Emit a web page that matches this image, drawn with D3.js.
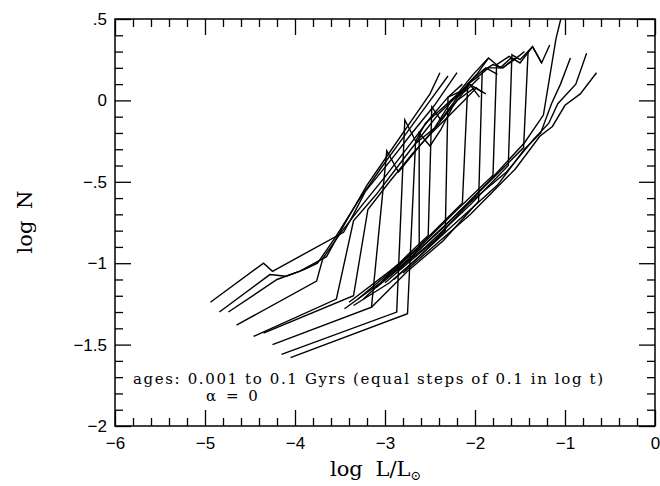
<!DOCTYPE html>
<html>
<head>
<meta charset="utf-8">
<script src="https://cdn.jsdelivr.net/npm/d3@7"></script>
<style>
  body { margin: 0; background: #fff; }
  svg { display: block; }
</style>
</head>
<body>
<script>
var w = 660;
var h = 486;
var plot = { left: 115, right: 655, top: 19, bottom: 426 };

// tick values
var xMajor = [-6, -5, -4, -3, -2, -1, 0];
var xMinor = [-5.8, -5.6, -5.4, -5.2, -4.8, -4.6, -4.4, -4.2, -3.8, -3.6, -3.4, -3.2,
  -2.8, -2.6, -2.4, -2.2, -1.8, -1.6, -1.4, -1.2, -0.8, -0.6, -0.4, -0.2];
var xLabels = ['\u22126', '\u22125', '\u22124', '\u22123', '\u22122', '\u22121', '0'];
var yMajor = [0.5, 0, -0.5, -1, -1.5, -2];
var yMinor = [0.4, 0.3, 0.2, 0.1, -0.1, -0.2, -0.3, -0.4, -0.6, -0.7, -0.8, -0.9,
  -1.1, -1.2, -1.3, -1.4, -1.6, -1.7, -1.8, -1.9];
var yLabels = ['.5', '0', '\u2212.5', '\u22121', '\u22121.5', '\u22122'];

// luminosity functions, one per age (log L, log N)
var curves = [
  [[-4.94,-1.24],[-4.35,-1.00],[-4.25,-1.05],[-3.46,-0.81],[-3.35,-0.70],[-3.22,-0.56],[-2.94,-0.37],[-2.70,-0.20],[-2.45,-0.03],[-2.20,0.17]],
  [[-4.84,-1.30],[-4.28,-1.07],[-4.10,-1.08],[-3.95,-1.05],[-3.65,-0.96],[-3.45,-0.76],[-3.20,-0.52],[-2.95,-0.32],[-2.70,-0.12],[-2.50,0.04],[-2.39,0.17]],
  [[-4.74,-1.30],[-4.20,-1.10],[-3.90,-1.04],[-3.75,-1.00],[-3.55,-0.84],[-3.30,-0.62],[-3.05,-0.42],[-2.80,-0.23],[-2.55,-0.04],[-2.30,0.15]],
  [[-4.65,-1.38],[-3.76,-1.11],[-3.69,-0.97],[-3.50,-0.82],[-3.25,-0.64],[-3.00,-0.47],[-2.75,-0.29],[-2.50,-0.11],[-2.30,0.02],[-2.14,0.10]],
  [[-4.46,-1.45],[-3.54,-1.22],[-3.35,-0.74],[-3.10,-0.58],[-2.85,-0.40],[-2.60,-0.22],[-2.40,-0.08],[-2.25,0.00],[-2.06,0.10],[-1.95,0.02]],
  [[-4.35,-1.43],[-3.35,-1.20],[-3.19,-0.67],[-2.95,-0.50],[-2.70,-0.33],[-2.50,-0.21],[-2.30,-0.10],[-2.12,0.00],[-1.98,0.08]],
  [[-4.25,-1.50],[-3.15,-1.27],[-2.98,-0.31],[-2.85,-0.44],[-2.60,-0.27],[-2.40,-0.14],[-2.20,0.00],[-2.00,0.08],[-1.88,0.04]],
  [[-4.15,-1.56],[-2.87,-1.30],[-2.78,-0.12],[-2.65,-0.26],[-2.45,-0.17],[-2.26,0.00],[-2.10,0.06],[-1.95,0.14]],
  [[-4.05,-1.58],[-2.75,-1.31],[-2.66,-0.25],[-2.55,-0.14],[-2.35,-0.04],[-2.15,0.06],[-1.98,0.16],[-1.85,0.26]],
  [[-3.45,-1.28],[-3.05,-1.12],[-2.75,-0.95],[-2.52,-0.83],[-2.48,-0.04],[-2.38,-0.12],[-2.22,0.00],[-2.05,0.12],[-1.88,0.20],[-1.75,0.16]],
  [[-3.35,-1.26],[-2.95,-1.12],[-2.60,-0.95],[-2.33,-0.80],[-2.30,0.02],[-2.18,0.05],[-2.02,0.16],[-1.85,0.26],[-1.72,0.20],[-1.60,0.26]],
  [[-3.24,-1.22],[-2.85,-1.02],[-2.45,-0.80],[-2.14,-0.63],[-2.08,0.10],[-1.98,0.14],[-1.85,0.20],[-1.69,0.20],[-1.56,0.26]],
  [[-3.15,-1.27],[-2.75,-1.05],[-2.35,-0.86],[-1.96,-0.62],[-1.92,0.18],[-1.80,0.22],[-1.69,0.20],[-1.54,0.26],[-1.45,0.30]],
  [[-3.30,-1.22],[-2.65,-0.92],[-2.25,-0.70],[-1.80,-0.46],[-1.76,0.22],[-1.62,0.27],[-1.50,0.23],[-1.36,0.33]],
  [[-3.10,-1.15],[-2.55,-0.90],[-2.05,-0.64],[-1.63,-0.40],[-1.59,0.28],[-1.50,0.25],[-1.36,0.33],[-1.26,0.23]],
  [[-3.00,-1.12],[-2.45,-0.86],[-1.95,-0.56],[-1.46,-0.29],[-1.41,0.30],[-1.36,0.33],[-1.26,0.23],[-1.17,0.34]],
  [[-2.95,-1.08],[-2.35,-0.78],[-1.85,-0.50],[-1.45,-0.26],[-1.24,-0.09],[-1.10,0.38],[-1.02,0.56]],
  [[-2.90,-1.10],[-2.25,-0.77],[-1.75,-0.52],[-1.45,-0.30],[-1.27,-0.20],[-1.15,-0.02],[-1.05,0.10],[-0.94,0.26]],
  [[-2.85,-1.04],[-2.15,-0.67],[-1.65,-0.44],[-1.35,-0.24],[-1.18,-0.14],[-1.08,-0.02],[-0.88,0.10],[-0.76,0.29]],
  [[-2.80,-1.06],[-2.05,-0.70],[-1.55,-0.42],[-1.28,-0.22],[-1.14,-0.16],[-1.00,-0.03],[-0.83,0.04],[-0.65,0.17]],
  [[-3.40,-1.24],[-2.95,-1.05],[-2.62,-0.90],[-2.62,-0.20],[-2.50,-0.28],[-2.38,-0.18],[-2.25,-0.04],[-2.06,0.10],[-1.92,0.05]]
];

var x = d3.scaleLinear().domain([-6, 0]).range([plot.left, plot.right]);
var y = d3.scaleLinear().domain([-2, 0.5]).range([plot.bottom, plot.top]);

var svg = d3.select('body').append('svg').attr('width', w).attr('height', h);

svg.append('clipPath').attr('id', 'clip')
  .append('rect')
  .attr('x', plot.left).attr('y', plot.top)
  .attr('width', plot.right - plot.left).attr('height', plot.bottom - plot.top);

var line = d3.line()
  .x(function (d) { return x(d[0]); })
  .y(function (d) { return y(d[1]); });

svg.append('g').attr('clip-path', 'url(#clip)')
  .selectAll('path.lf')
  .data(curves)
  .enter()
  .append('path')
  .attr('class', 'lf')
  .attr('d', line)
  .style('fill', 'none')
  .style('stroke', '#000')
  .style('stroke-width', 1.4)
  .style('stroke-linejoin', 'miter');

// axes, ticks pointing inward on all four sides
function styleAxis(g) {
  g.select('.domain').remove();
  g.selectAll('line').style('stroke', '#000').style('stroke-width', 1.3);
  g.selectAll('text')
    .style('font-family', '"Liberation Sans", Arial, sans-serif')
    .style('font-size', '17px')
    .style('fill', '#000');
}

svg.append('g').attr('transform', 'translate(0,' + plot.bottom + ')')
  .call(d3.axisBottom(x).tickValues(xMajor).tickSize(-16).tickPadding(11)
    .tickFormat(function (d, i) { return xLabels[i]; }))
  .call(styleAxis);
svg.append('g').attr('transform', 'translate(0,' + plot.bottom + ')')
  .call(d3.axisBottom(x).tickValues(xMinor).tickSize(-8).tickFormat(''))
  .call(styleAxis);
svg.append('g').attr('transform', 'translate(0,' + plot.top + ')')
  .call(d3.axisTop(x).tickValues(xMajor).tickSize(-16).tickFormat(''))
  .call(styleAxis);
svg.append('g').attr('transform', 'translate(0,' + plot.top + ')')
  .call(d3.axisTop(x).tickValues(xMinor).tickSize(-8).tickFormat(''))
  .call(styleAxis);

svg.append('g').attr('transform', 'translate(' + plot.left + ',0)')
  .call(d3.axisLeft(y).tickValues(yMajor).tickSize(-16).tickPadding(8)
    .tickFormat(function (d, i) { return yLabels[i]; }))
  .call(styleAxis);
svg.append('g').attr('transform', 'translate(' + plot.left + ',0)')
  .call(d3.axisLeft(y).tickValues(yMinor).tickSize(-8).tickFormat(''))
  .call(styleAxis);
svg.append('g').attr('transform', 'translate(' + plot.right + ',0)')
  .call(d3.axisRight(y).tickValues(yMajor).tickSize(-16).tickFormat(''))
  .call(styleAxis);
svg.append('g').attr('transform', 'translate(' + plot.right + ',0)')
  .call(d3.axisRight(y).tickValues(yMinor).tickSize(-8).tickFormat(''))
  .call(styleAxis);

svg.append('rect')
  .attr('x', plot.left).attr('y', plot.top)
  .attr('width', plot.right - plot.left).attr('height', plot.bottom - plot.top)
  .style('fill', 'none').style('stroke', '#000').style('stroke-width', 1.5);

// titles
var serif = '"DejaVu Serif", "Liberation Serif", serif';
svg.append('text')
  .attr('transform', 'translate(32,' + 222 + ') rotate(-90)')
  .attr('text-anchor', 'middle')
  .style('font-family', serif).style('font-size', '21px')
  .style('word-spacing', '5px')
  .text('log N');

var xt = svg.append('text')
  .attr('x', 330).attr('y', 476)
  .style('font-family', serif).style('font-size', '21px')
  .style('word-spacing', '6px');
xt.append('tspan').text('log L/L');
xt.append('tspan').attr('dy', 4).style('font-size', '13px').text('\u2299');

svg.append('text')
  .attr('x', 133).attr('y', 384)
  .attr('textLength', 470).attr('lengthAdjust', 'spacing')
  .style('font-family', serif).style('font-size', '15px')
  .text('ages: 0.001 to 0.1 Gyrs (equal steps of 0.1 in log t)');
svg.append('text')
  .attr('x', 206).attr('y', 401)
  .style('font-family', serif).style('font-size', '15px')
  .style('word-spacing', '5px')
  .text('\u03b1 = 0');
</script>
</body>
</html>
